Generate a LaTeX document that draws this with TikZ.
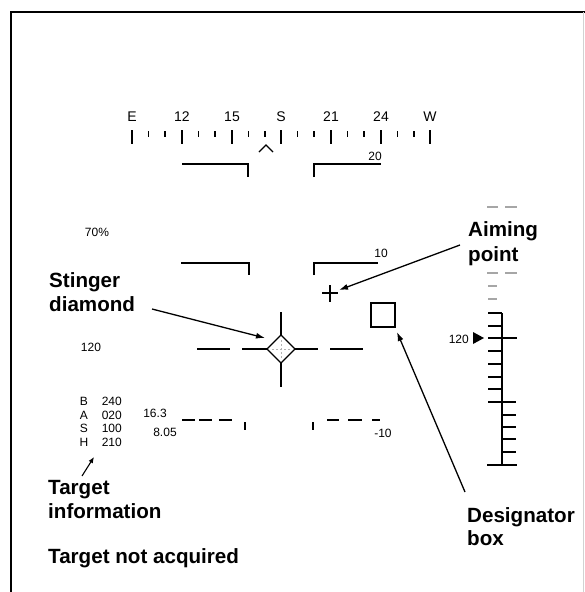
\documentclass[tikz,border=0pt]{standalone}
\usepackage{fontspec}
\setmainfont{Liberation Sans}
\usetikzlibrary{arrows.meta}
\begin{document}
\begin{tikzpicture}[x=1pt,y=-1pt,
  lbl/.style={font=\fontsize{20.6}{22}\selectfont\bfseries, anchor=base west, inner sep=0pt},
  sm/.style={font=\fontsize{12}{13}\selectfont, inner sep=0pt},
  cmp/.style={font=\fontsize{14}{15}\selectfont, inner sep=0pt},
  hud/.style={line width=1.4pt},
  tick/.style={line width=1.2pt},
  callout/.style={line width=1.3pt, -{Latex[length=9pt,width=6pt]}}]
\useasboundingbox (0,0) rectangle (585,592);
\fill[white] (0,0) rectangle (585,592);
% frame
\draw[line width=2.5pt] (11,592) -- (11,12) -- (585,12);
\draw[gray!35, line width=0.8pt] (583,12) -- (583,592);
% compass
\foreach \x/\t [count=\i] in {132/E,182/12,232/15,281/S,331/21,381/24,430/W}{
  \node[cmp] (c\i) at (\x,117) {\t};
  \draw[hud] (\x,130) -- (\x,144);
}
\foreach \x in {132,182,232,281,331,381}{
  \draw[tick] (\x+16.5,131) -- (\x+16.5,137);
  \draw[tick] (\x+33,131) -- (\x+33,137);
}
\draw[line width=1.2pt] (259,152) -- (266,145) -- (273,152);
% upper brackets
\draw[hud] (182,164) -- (248,164) -- (248,177);
\draw[hud] (314,177) -- (314,164) -- (381,164);
\node[sm] (n20) at (375,156) {20};
% lower brackets
\draw[hud] (181,263) -- (249,263) -- (249,275);
\draw[hud] (314,275) -- (314,263) -- (378,263);
\node[sm] (n10) at (381,253) {10};
% small texts
\node[sm] (pct) at (97,232) {70\%};
\node[sm] (alt) at (91,347) {120};
% crosshair and diamond
\coordinate (dia) at (281,349);
\draw[hud] (197,349) -- (230,349);
\draw[hud] (242,349) -- (267,349);
\draw[hud] (295,349) -- (318,349);
\draw[hud] (330,349) -- (363,349);
\draw[hud] (281,312) -- (281,335);
\draw[hud] (281,363) -- (281,387);
\draw[hud] (267,349) -- (281,335) -- (295,349) -- (281,363) -- cycle;
\draw[gray!60, line width=0.6pt, dashed, dash pattern=on 2pt off 2pt] (272,349) -- (290,349) (281,340) -- (281,358);
% aiming point
\coordinate (aim) at (330,293);
\draw[hud] (322,293) -- (338,293) (330,285) -- (330,302);
% designator box
\node[draw, line width=1.4pt, minimum size=24pt, inner sep=0pt] (dbox) at (383,315) {};
% vertical scale
\draw[line width=2.2pt] (502,313) -- (502,465);
\foreach \y in {313,326,338,351,364,377,389,402}{ \draw[tick] (488,\y) -- (502,\y); }
\draw[tick] (502,338) -- (517,338);
\foreach \y in {402,415,427,439,452}{ \draw[tick] (502,\y) -- (516,\y); }
\draw[tick] (487,465) -- (517,465);
\draw[tick, gray!70] (487,207) -- (498,207) (505,207) -- (517,207);
\draw[tick, gray!70] (487,273) -- (498,273) (505,273) -- (517,273);
\draw[tick, gray!70] (488,286) -- (497,286);
\draw[tick, gray!70] (488,299) -- (497,299);
\fill (473,332) -- (484,338) -- (473,344) -- cycle;
\node[sm, anchor=east] (spd) at (469,339) {120};
% target info
\foreach \l/\v/\y [count=\i] in {B/240/401,A/020/415,S/100/428,H/210/442}{
  \node[sm] (tl\i) at (84,\y) {\l};
  \node[sm, anchor=east] (tv\i) at (122,\y) {\v};
}
\node[sm] (rng) at (155,413) {16.3};
\node[sm] (tim) at (165,432) {8.05};
% lower dashed line
\draw[tick] (182,420) -- (195,420) (199,420) -- (212,420) (219,420) -- (232,420);
\draw[tick] (245,422) -- (245,430);
\draw[tick] (313,422) -- (313,430);
\draw[tick] (327,420) -- (339,420) (348,420) -- (362,420) (372,420) -- (380,420);
\node[sm] (m10) at (383,433) {-10};
% labels
\node[lbl] (aimA) at (468,236) {Aiming};
\node[lbl] (aimB) at (468,261) {point};
\node[lbl] (stiA) at (49,287) {Stinger};
\node[lbl] (stiB) at (49,311) {diamond};
\node[lbl] (tgtA) at (48,494) {Target};
\node[lbl] (tgtB) at (48,518) {information};
\node[lbl] (tna) at (48,563) {Target not acquired};
\node[lbl] (desA) at (467,522) {Designator};
\node[lbl] (desB) at (467,545) {box};
% callouts
\coordinate (aimS) at (460,245);
\coordinate (aimE) at (339,290);
\coordinate (stiS) at (152,309);
\coordinate (stiE) at (265,338);
\coordinate (desS) at (465,492);
\coordinate (desE) at (397,332);
\coordinate (tgtS) at (82,476);
\coordinate (tgtE) at (94,457);
\draw[callout] (aimS) -- (aimE);
\draw[callout] (stiS) -- (stiE);
\draw[callout] (desS) -- (desE);
\draw[line width=1.1pt, -{Latex[length=6pt,width=5pt]}] (tgtS) -- (tgtE);
\end{tikzpicture}
\end{document}
